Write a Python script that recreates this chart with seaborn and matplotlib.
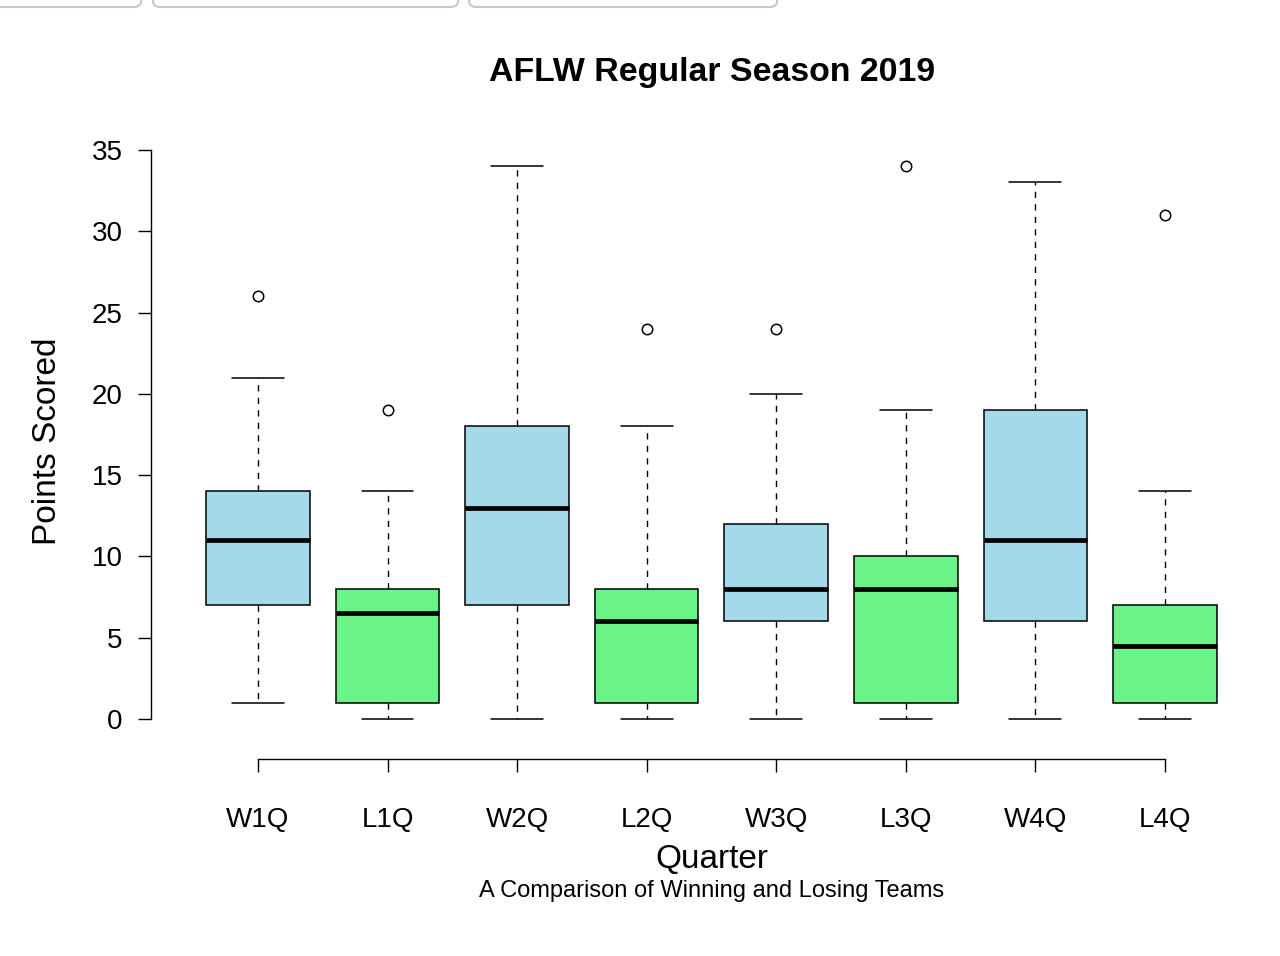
import matplotlib
matplotlib.use("Agg")
import matplotlib.pyplot as plt
from matplotlib.patches import FancyBboxPatch
import seaborn as sns

# box summary values
quarters = ["W1Q", "L1Q", "W2Q", "L2Q", "W3Q", "L3Q", "W4Q", "L4Q"]
whisker_low = [1, 0, 0, 0, 0, 0, 0, 0]
q1 = [7, 1, 7, 1, 6, 1, 6, 1]
median = [11, 6.5, 13, 6, 8, 8, 11, 4.5]
q3 = [14, 8, 18, 8, 12, 10, 19, 7]
whisker_high = [21, 14, 34, 18, 20, 19, 33, 14]
outliers = [[26], [19], [], [24], [24], [34], [], [31]]

win_color = "#A3D9E8"
lose_color = "#6CF387"

sns.set_theme(style="white")
plt.rcParams["font.family"] = ["Liberation Sans", "DejaVu Sans"]
plt.rcParams["text.color"] = "black"
plt.rcParams["xtick.color"] = "black"
plt.rcParams["ytick.color"] = "black"

fig = plt.figure(figsize=(12.8, 9.56), dpi=100)
ax = fig.add_axes([0.1509, 0.2241, 0.8098, 0.6429])

stats = []
for i, q in enumerate(quarters):
    stats.append({
        "label": q,
        "whislo": whisker_low[i],
        "q1": q1[i],
        "med": median[i],
        "q3": q3[i],
        "whishi": whisker_high[i],
        "fliers": outliers[i],
    })

res = ax.bxp(
    stats,
    positions=range(1, len(quarters) + 1),
    widths=0.8,
    capwidths=0.4,
    patch_artist=True,
    boxprops=dict(edgecolor="black", linewidth=1.1),
    whiskerprops=dict(color="black", linewidth=1.0, linestyle=(0, (4.5, 4.5))),
    capprops=dict(color="black", linewidth=1.1),
    medianprops=dict(color="black", linewidth=3.4, solid_capstyle="butt"),
    flierprops=dict(marker="o", markersize=7.5, markerfacecolor="none",
                    markeredgecolor="black", markeredgewidth=1.1),
)
for i, box in enumerate(res["boxes"]):
    box.set_facecolor(win_color if quarters[i].startswith("W") else lose_color)

ax.set_xlim(0.5, 8.5)
ax.set_ylim(-1.4, 36.4)
ax.set_yticks([0, 5, 10, 15, 20, 25, 30, 35])
ax.set_xticks(range(1, 9))
ax.set_xticklabels(quarters)

for s in ["top", "right"]:
    ax.spines[s].set_visible(False)
# outward offsets are in points (dpi 100 -> 0.72 pt per pixel)
ax.spines["left"].set_position(("outward", 42 * 0.72))
ax.spines["left"].set_bounds(0, 35)
ax.spines["bottom"].set_position(("outward", 17 * 0.72))
ax.spines["bottom"].set_bounds(1, 8)
for s in ["left", "bottom"]:
    ax.spines[s].set_color("black")
    ax.spines[s].set_linewidth(1.0)

ax.tick_params(axis="y", direction="out", length=9.4, width=1.0, color="black",
               labelsize=20, pad=11, left=True, labelcolor="black")
ax.tick_params(axis="x", direction="out", length=9.4, width=1.0, color="black",
               labelsize=20, pad=25, bottom=True, labelcolor="black")
ax.grid(False)

fig.text(712 / 1280, 1 - 72 / 956, "AFLW Regular Season 2019",
         ha="center", va="center", fontsize=24.4, fontweight="bold")
fig.text(711.5 / 1280, 1 - 859 / 956, "Quarter",
         ha="center", va="center", fontsize=24)
fig.text(711.5 / 1280, 1 - 891 / 956, "A Comparison of Winning and Losing Teams",
         ha="center", va="center", fontsize=17)
fig.text(48 / 1280, 1 - 441 / 956, "Points Scored",
         ha="center", va="center", fontsize=24, rotation=90)

# browser tab outlines along the top edge of the screenshot
for x0, x1 in [(-10, 141), (153, 458), (469, 777)]:
    fig.patches.append(FancyBboxPatch(
        (x0 / 1280, (956 - 7) / 956), (x1 - x0) / 1280, 30 / 956,
        boxstyle="round,pad=0,rounding_size=0.006",
        transform=fig.transFigure, facecolor="white",
        edgecolor="#c8c8c8", linewidth=1.5))

fig.savefig("out.png", dpi=100)
